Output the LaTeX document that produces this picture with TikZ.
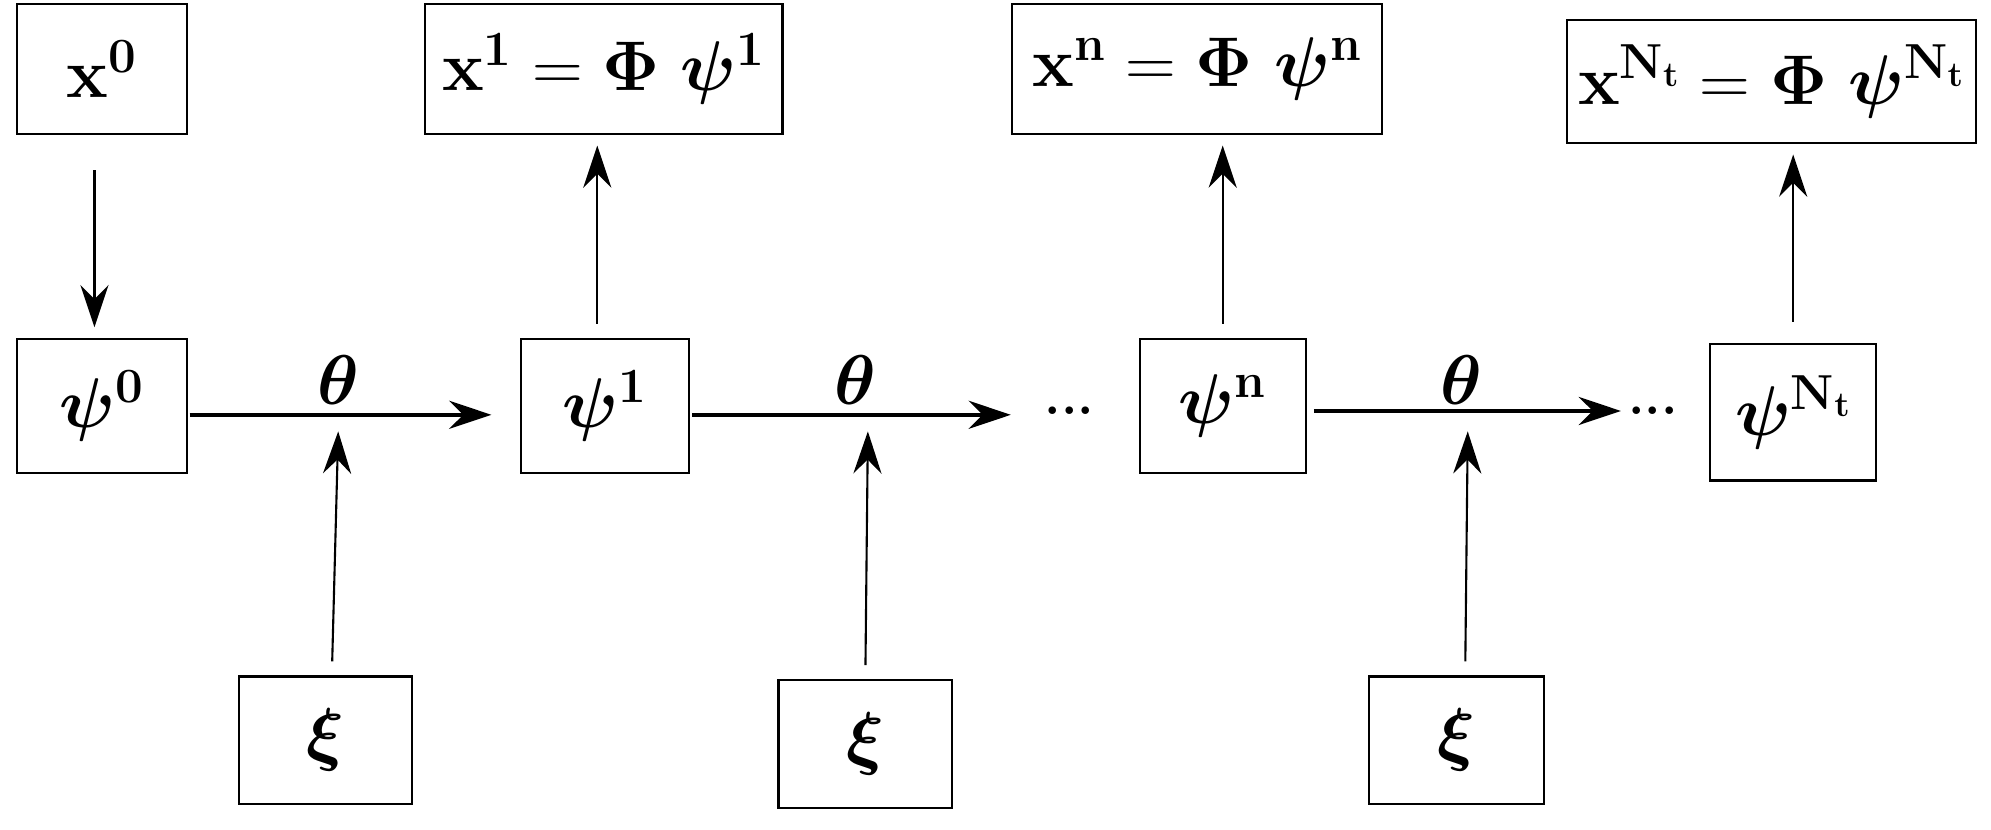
\RequirePackage{fix-cm}
\documentclass[tikz,border=0pt]{standalone}
\usepackage{bm}
\usetikzlibrary{arrows.meta}
\begin{document}
\begin{tikzpicture}[x=0.02552cm, y=-0.02552cm,
    box/.style={rectangle, draw, line width=1.2pt, inner sep=0pt, font=\fontsize{40}{48}\selectfont},
    flow/.style={line width=2pt, -{Stealth[length=24pt, width=16pt, inset=8pt]}},
    feed/.style={line width=1.2pt, -{Stealth[length=24pt, width=16pt, inset=8pt]}},
    lbl/.style={font=\fontsize{40}{48}\selectfont},
    dots/.style={font=\fontsize{30}{36}\selectfont\bfseries, inner sep=0pt}
]
\useasboundingbox (0,0) rectangle (1560,650);
% top row
\node[box, minimum width=3.39cm, minimum height=2.6cm] (x0) at (80,54) {$\mathbf{x}^{\mathbf{0}}$};
\node[box, minimum width=7.15cm, minimum height=2.6cm] (x1) at (473,54) {$\mathbf{x}^{\mathbf{1}}\mathrel{\mathbf{=}}\mathbf{\Phi}\ \bm{\psi}^{\mathbf{1}}$};
\node[box, minimum width=7.4cm, minimum height=2.6cm] (xn) at (938,54) {$\mathbf{x}^{\mathbf{n}}\mathrel{\mathbf{=}}\mathbf{\Phi}\ \bm{\psi}^{\mathbf{n}}$};
\node[box, minimum width=8.17cm, minimum height=2.45cm] (xN) at (1388,64) {$\mathbf{x}^{\mathbf{N_t}}\mathrel{\mathbf{=}}\mathbf{\Phi}\ \bm{\psi}^{\mathbf{N_t}}$};
% middle row
\node[box, minimum width=3.39cm, minimum height=2.68cm] (p0) at (80,318) {$\bm{\psi}^{\mathbf{0}}$};
\node[box, minimum width=3.37cm, minimum height=2.68cm] (p1) at (474,318) {$\bm{\psi}^{\mathbf{1}}$};
\node[box, minimum width=3.32cm, minimum height=2.68cm] (pn) at (958,318) {$\bm{\psi}^{\mathbf{n}}$};
\node[box, minimum width=3.32cm, minimum height=2.73cm] (pN) at (1405,323) {$\bm{\psi}^{\mathbf{N_t}}$};
\node[dots] (d1) at (838,322) {...};
\node[dots] (d2) at (1295,322) {...};
% bottom row
\node[box, minimum width=3.45cm, minimum height=2.55cm] (xi1) at (255,580) {$\bm{\xi}$};
\node[box, minimum width=3.47cm, minimum height=2.55cm] (xi2) at (678,583) {$\bm{\xi}$};
\node[box, minimum width=3.5cm, minimum height=2.55cm] (xi3) at (1141,580) {$\bm{\xi}$};
% theta labels
\node[lbl] (t1) at (265,298) {$\bm{\theta}$};
\node[lbl] (t2) at (670,298) {$\bm{\theta}$};
\node[lbl] (t3) at (1145,298) {$\bm{\theta}$};
\coordinate (m1) at (265,338);
\coordinate (m2) at (680,338);
\coordinate (m3) at (1150,338);
% connectors
\draw[feed, shorten <=20pt, shorten >=6pt] (x0.south -| 74,0) -- (p0.north -| 74,0);
\draw[flow, shorten <=1pt] (p0.east |- 0,325) -- (385,325);
\draw[flow, shorten <=1pt] (p1.east |- 0,325) -- (792,325);
\draw[flow, shorten <=4pt] (pn.east |- 0,322) -- (1270,322);
\draw[feed, shorten <=8pt] (xi1.north -| 260,0) -- (m1);
\draw[feed, shorten <=8pt] (xi2.north -| 678,0) -- (m2);
\draw[feed, shorten <=8pt] (xi3.north -| 1148,0) -- (m3);
\draw[feed, shorten <=8pt, shorten >=6pt] (p1.north -| 468,0) -- (x1.south -| 468,0);
\draw[feed, shorten <=8pt, shorten >=6pt] (pn.north) -- (xn.south -| 958,0);
\draw[feed, shorten <=12pt, shorten >=6pt] (pN.north) -- (xN.south -| 1405,0);
\end{tikzpicture}
\end{document}
